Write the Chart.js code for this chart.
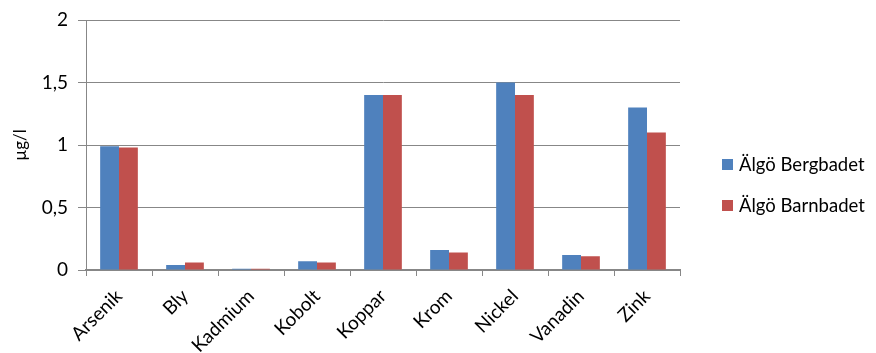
<!DOCTYPE html>
<html>
<head>
<meta charset="utf-8">
<script src="https://cdn.jsdelivr.net/npm/chart.js@4/dist/chart.umd.min.js"></script>
<style>
  html, body { margin: 0; padding: 0; background: #fff; }
  #wrap { width: 876px; height: 353px; position: relative; }
</style>
</head>
<body>
<div id="wrap"><canvas id="c" width="876" height="353"></canvas></div>
<script>
// Metal concentrations (µg/l) at two bathing sites
const categories = ['Arsenik', 'Bly', 'Kadmium', 'Kobolt', 'Koppar', 'Krom', 'Nickel', 'Vanadin', 'Zink'];
const seriesNames = ['Älgö Bergbadet', 'Älgö Barnbadet'];
const bergbadet = [0.99, 0.04, 0.01, 0.07, 1.4, 0.16, 1.5, 0.12, 1.3];
const barnbadet = [0.98, 0.06, 0.01, 0.06, 1.4, 0.14, 1.4, 0.11, 1.1];
const yTickLabels = ['0', '0,5', '1', '1,5', '2'];

const FONT = 'Lato, "Open Sans", sans-serif';
const GRID = '#878787';

// Legend drawn to the right of the plot area
const sideLegend = {
  id: 'sideLegend',
  afterDraw(chart) {
    const ctx = chart.ctx;
    ctx.save();
    ctx.font = '18.5px ' + FONT;
    ctx.textBaseline = 'middle';
    const ys = [164, 205];
    chart.data.datasets.forEach((ds, i) => {
      ctx.fillStyle = ds.backgroundColor;
      ctx.fillRect(722, ys[i] - 5, 11, 11);
      ctx.fillStyle = '#000';
      ctx.fillText(ds.label, 739, ys[i] + 1);
    });
    ctx.restore();
  }
};

new Chart(document.getElementById('c'), {
  type: 'bar',
  data: {
    labels: categories,
    datasets: [
      { label: seriesNames[0], data: bergbadet, backgroundColor: '#4F81BD' },
      { label: seriesNames[1], data: barnbadet, backgroundColor: '#C0504D' }
    ]
  },
  plugins: [sideLegend],
  options: {
    responsive: false,
    animation: false,
    devicePixelRatio: 1,
    layout: { padding: { top: 20, right: 196, bottom: 0, left: 0 } },
    datasets: { bar: { barPercentage: 1, categoryPercentage: 0.571 } },
    plugins: { legend: { display: false }, tooltip: { enabled: false } },
    scales: {
      x: {
        grid: { display: true, drawOnChartArea: false, drawTicks: true, tickLength: 6, color: GRID, lineWidth: 1 },
        border: { color: GRID, width: 2 },
        ticks: { color: '#000', font: { family: FONT, size: 19 }, minRotation: 45, maxRotation: 45, padding: 9 },
        afterFit(scale) { scale.height = 83; }
      },
      y: {
        min: 0, max: 2,
        grid: { color: GRID, lineWidth: 1, drawTicks: true, tickLength: 8 },
        border: { color: GRID, width: 1 },
        ticks: {
          stepSize: 0.5, color: '#000', font: { family: FONT, size: 19, lineHeight: 1 }, padding: 10,
          callback: (v) => yTickLabels[Math.round(v / 0.5)]
        },
        title: { display: true, text: 'µg/l', color: '#000', font: { family: FONT, size: 17 }, padding: { top: 10, bottom: 0 } },
        afterFit(scale) { scale.width = 86; }
      }
    }
  }
});
</script>
</body>
</html>
